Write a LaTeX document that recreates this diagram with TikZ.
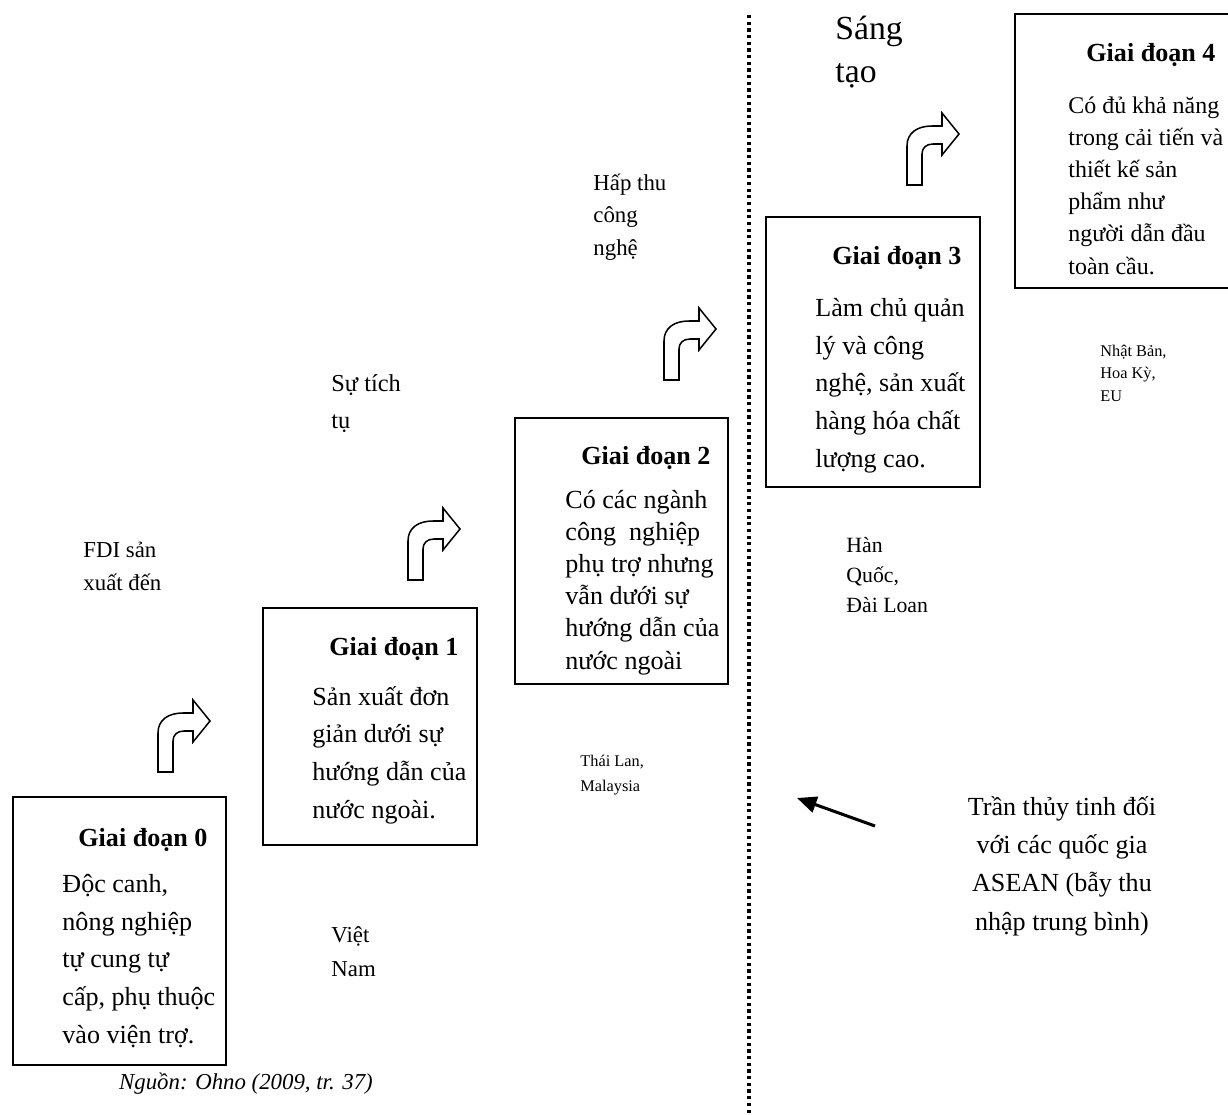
\documentclass[tikz,border=0pt]{standalone}
\usepackage{fontspec}
\setmainfont{Liberation Serif}
\usetikzlibrary{arrows.meta,fit}

\tikzset{
  stagebox/.style={draw, line width=0.9pt, inner sep=0pt},
  stagetitle/.style={anchor=base west, inner sep=0pt, font=\fontsize{12}{14}\selectfont\bfseries},
  stagetext/.style={anchor=base west, inner sep=0pt, align=left, font=\fontsize{12}{17.3}\selectfont},
  stagetight/.style={stagetext, font=\fontsize{12}{14.8}\selectfont},
  steplabel/.style={anchor=base west, inner sep=0pt, align=left, font=\fontsize{10.5}{15.2}\selectfont},
  countrylabel/.style={anchor=base west, inner sep=0pt, align=left, font=\fontsize{7.5}{11.2}\selectfont},
  turnarrow/.style={draw, line width=0.7pt, fill=white, line join=miter},
  sepline/.style={line width=1.7pt, dash pattern=on 1.5pt off 1.57pt},
  ceilarrow/.style={line width=1.4pt, -{Triangle[length=9pt,width=7.5pt]}}
}

\begin{document}
\begin{tikzpicture}[x=0.46pt,y=-0.46pt]
  \useasboundingbox (0,0) rectangle (1228,1115);

  % dividing line
  \coordinate (sepTop) at (749,15);
  \coordinate (sepBot) at (749,1115);
  \draw[sepline] (sepTop) -- (sepBot);

  % stage boxes
  \node[stagebox, fit={(13,797) (226,1065)}] (s0) {};
  \node[stagebox, fit={(263,608) (477,845)}] (s1) {};
  \node[stagebox, fit={(515,418) (728,684)}] (s2) {};
  \node[stagebox, fit={(766,217) (980,487)}] (s3) {};
  \node[stagebox, fit={(1015,14) (1245,288)}] (s4) {};

  % stage titles
  \node[stagetitle] (t0) at (78,846) {Giai đoạn 0};
  \node[stagetitle] (t1) at (329,655) {Giai đoạn 1};
  \node[stagetitle] (t2) at (581,464) {Giai đoạn 2};
  \node[stagetitle] (t3) at (832,264) {Giai đoạn 3};
  \node[stagetitle] (t4) at (1086,62) {Giai đoạn 4};

  % stage contents (placed at the baseline of the last line)
  \node[stagetext] (b0) at (62,1043) {Độc canh,\\nông nghiệp\\tự cung tự\\cấp, phụ thuộc\\vào viện trợ.};
  \node[stagetext] (b1) at (312,818) {Sản xuất đơn\\giản dưới sự\\hướng dẫn của\\nước ngoài.};
  \node[stagetight] (b2) at (565,669) {Có các ngành\\công\ \ nghiệp\\phụ trợ nhưng\\vẫn dưới sự\\hướng dẫn của\\nước ngoài};
  \node[stagetext] (b3) at (815,467) {Làm chủ quản\\lý và công\\nghệ, sản xuất\\hàng hóa chất\\lượng cao.};
  \node[stagetight, font=\fontsize{11}{14.8}\selectfont] (b4) at (1068,274) {Có đủ khả năng\\trong cải tiến và\\thiết kế sản\\phẩm như\\người dẫn đầu\\toàn cầu.};

  % turn arrows between stages
  \foreach \ax/\ay in {158/772, 408/580, 664/380, 907/185} {
    \begin{scope}[shift={(\ax,\ay)}]
      \draw[turnarrow] (0,0) -- (0,-39) .. controls (0,-52) and (10,-59) .. (25,-59)
        -- (35,-59) -- (35,-72) -- (52,-51) -- (35,-30) -- (35,-41) -- (26,-41)
        .. controls (19,-41) and (15,-37) .. (15,-31) -- (15,0) -- cycle;
    \end{scope}
  }

  % step labels
  \node[steplabel] (fdi) at (83,590.5) {FDI sản\\xuất đến};
  \node[steplabel, font=\fontsize{11.2}{16.8}\selectfont] (accum) at (331,428) {Sự tích\\tụ};
  \node[steplabel, font=\fontsize{10.5}{15}\selectfont] (absorb) at (593,255.5) {Hấp thu\\công\\nghệ};
  \node[steplabel, font=\fontsize{15.5}{20.2}\selectfont] (create) at (835,83) {Sáng\\tạo};

  % countries
  \node[steplabel, font=\fontsize{10.5}{15.6}\selectfont] (vn) at (331,976) {Việt\\Nam};
  \node[steplabel, font=\fontsize{10}{13.6}\selectfont] (kr) at (846,612) {Hàn\\Quốc,\\Đài Loan};
  \node[countrylabel] (th) at (580,791) {Thái Lan,\\Malaysia};
  \node[countrylabel, font=\fontsize{7.5}{10.35}\selectfont] (jp) at (1100,401) {Nhật Bản,\\Hoa Kỳ,\\EU};

  % glass ceiling
  \node[anchor=base, inner sep=0pt, align=center, font=\fontsize{12}{17.5}\selectfont] (glass) at (1062,930)
    {Trần thủy tinh đối\\với các quốc gia\\ASEAN (bẫy thu\\nhập trung bình)};
  \coordinate (glassTail) at (875,826);
  \coordinate (glassTip) at (797,798);
  \draw[ceilarrow] (glassTail) -- (glassTip);

  % source
  \node[anchor=base, inner sep=0pt, font=\fontsize{10.5}{13}\selectfont\itshape] (src) at (246,1089) {Nguồn: Ohno (2009, tr. 37)};
\end{tikzpicture}
\end{document}
